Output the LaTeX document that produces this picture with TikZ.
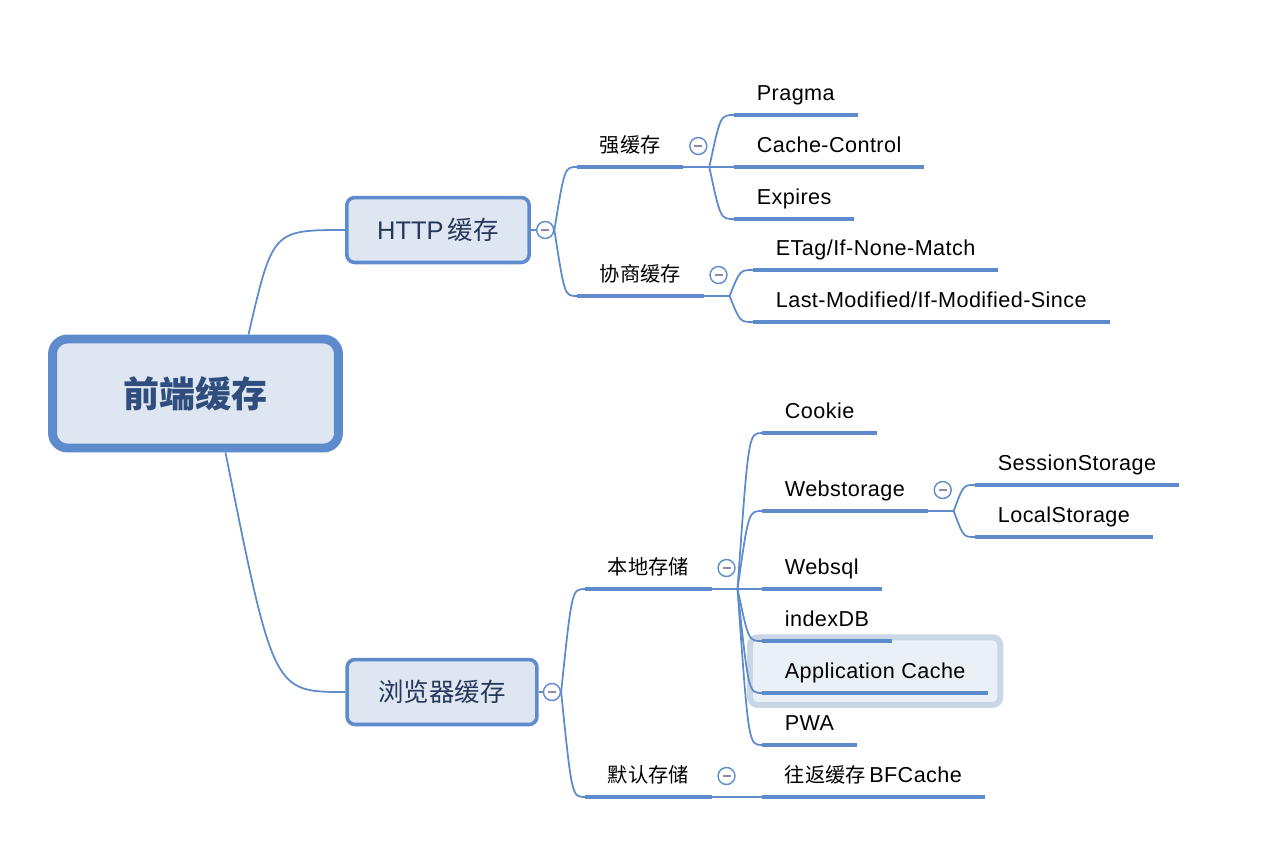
\documentclass[tikz,border=0pt]{standalone}
\usepackage{fontspec}
\setmainfont{Liberation Sans}
\newfontfamily\topicfont{Liberation Sans}[LetterSpace=2.0]
\newfontfamily\cjk{Noto Sans CJK SC}
\usetikzlibrary{positioning, fit, backgrounds, calc}
\definecolor{mapblue}{RGB}{94,139,204}
\definecolor{boxfill}{RGB}{222,230,242}
\definecolor{roottext}{RGB}{47,77,125}
\definecolor{boxtext}{RGB}{38,56,90}
\definecolor{foldmark}{RGB}{150,135,175}
\definecolor{seledge}{RGB}{200,214,230}
\definecolor{selfill}{RGB}{233,241,247}
\tikzset{
    link/.style={draw=mapblue, line width=1pt}, % thin branch lines
    uline/.style={draw=mapblue, line width=2.3pt}, % thick bar under every topic
    branch/.style={to path={.. controls ($(\tikztostart |- \tikztotarget)!#1!(\tikztotarget)$) .. (\tikztotarget)}}, % bracket shaped branch
    branch/.default=0.45,
    topic/.style={anchor=south west, inner xsep=0.45cm, inner ysep=0.28cm, text height=0.3cm, text depth=0pt, font=\topicfont\fontsize{12.3}{15}\selectfont},
    cjktopic/.style={topic, font=\cjk\fontsize{11.5}{14}\selectfont},
    mainbox/.style={draw=mapblue, fill=boxfill, line width=2pt, rounded corners=0.16cm, minimum width=3.65cm, minimum height=1.3cm, text=boxtext, font=\fontsize{14.5}{17}\selectfont},
    rootbox/.style={mainbox, line width=5.1pt, rounded corners=0.3cm, minimum width=5.72cm, minimum height=2.18cm, text=roottext, font=\cjk\bfseries\fontsize{20.5}{24}\selectfont},
    fold/.style={circle, draw=mapblue, fill=white, line width=0.8pt, minimum size=0.34cm, inner sep=0pt,
        path picture={\draw[foldmark, line width=0.7pt] ([xshift=-0.08cm]path picture bounding box.center) -- ([xshift=0.08cm]path picture bounding box.center);}},
    selbox/.style={draw=seledge, fill=selfill, line width=3.4pt, rounded corners=0.16cm},
}
\begin{document}
\begin{tikzpicture}[x=0.02cm, y=-0.02cm]
\useasboundingbox (0,0) rectangle (1288,862);

% main topics
\node[rootbox] (root) at (195.5,393.5) {前端缓存};
\node[mainbox] (http) at (438,230) {HTTP\,{\cjk 缓存}};
\node[mainbox, minimum width=3.8cm] (browser) at (442,692) {{\cjk 浏览器缓存}};

% HTTP cache
\node[cjktopic] (qiang) at (577,167) {强缓存};
\node[cjktopic] (xieshang) at (577,296) {协商缓存};
\node[topic] (pragma) at (734,115) {Pragma};
\node[topic] (cachectl) at (734,167) {Cache-Control};
\node[topic] (expires) at (734,219) {Expires};
\node[topic] (etag) at (753,270) {ETag/If-None-Match};
\node[topic] (lastmod) at (753,322) {Last-Modified/If-Modified-Since};

% browser cache
\node[cjktopic] (bendi) at (585,589) {本地存储};
\node[cjktopic] (moren) at (585,797) {默认存储};
\node[topic] (cookie) at (762,433) {Cookie};
\node[topic] (webstore) at (762,511) {Webstorage};
\node[topic] (websql) at (762,589) {Websql};
\node[topic] (indexdb) at (762,641) {indexDB};
\node[topic] (appcache) at (762,693) {Application Cache};
\node[topic] (pwa) at (762,745) {PWA};
\node[topic] (session) at (975,485) {SessionStorage};
\node[topic] (localst) at (975,537) {LocalStorage};
\node[topic] (bfcache) at (762,797) {{\cjk\fontsize{11.5}{14}\selectfont 往返缓存}\,BFCache};

\begin{pgfonlayer}{background}
\node[selbox, fit=(appcache), inner sep=0.24cm] (appsel) {};
\end{pgfonlayer}

% fork points
\coordinate[right=0.52cm of qiang.south east] (qiangfork);
\coordinate[right=0.52cm of xieshang.south east] (xsfork);
\coordinate[right=0.52cm of bendi.south east] (bendifork);
\coordinate[right=0.52cm of webstore.south east] (webfork);

\foreach \t in {qiang,xieshang,pragma,cachectl,expires,etag,lastmod,bendi,moren,cookie,webstore,websql,indexdb,appcache,pwa,session,localst,bfcache}
    \draw[uline] (\t.south west) -- (\t.south east);

% branches
\draw[link] ([xshift=1.06cm]root.north) to[branch=0.25] (http.west);
\draw[link] ([xshift=0.6cm]root.south) to[branch=0.4] (browser.west);
\node[fold, right=0.1cm of http] (httpfold) {};
\node[fold, right=0.08cm of browser] (browserfold) {};
\draw[link] (http) -- (httpfold);
\draw[link] (browser) -- (browserfold);
\draw[link] (httpfold.east) to[branch] (qiang.south west)
      (httpfold.east) to[branch] (xieshang.south west);
\draw[link] (browserfold.east) to[branch] (bendi.south west)
      (browserfold.east) to[branch] (moren.south west);

\draw[link] (qiang.south east) -- (qiangfork);
\foreach \t in {pragma,cachectl,expires}
    \draw[link] (qiangfork) to[branch] (\t.south west);
\draw[link] (xieshang.south east) -- (xsfork);
\foreach \t in {etag,lastmod}
    \draw[link] (xsfork) to[branch] (\t.south west);
\draw[link] (bendi.south east) -- (bendifork);
\foreach \t in {cookie,webstore,websql,indexdb,appcache,pwa}
    \draw[link] (bendifork) to[branch] (\t.south west);
\draw[link] (webstore.south east) -- (webfork);
\foreach \t in {session,localst}
    \draw[link] (webfork) to[branch] (\t.south west);
\draw[link] (moren.south east) -- (bfcache.south west);

% fold buttons
\node[fold] (qiangfold) at ([xshift=-0.22cm, yshift=0.42cm]qiangfork) {};
\node[fold] (xsfold) at ([xshift=-0.22cm, yshift=0.42cm]xsfork) {};
\node[fold] (bendifold) at ([xshift=-0.22cm, yshift=0.42cm]bendifork) {};
\node[fold] (webfold) at ([xshift=-0.22cm, yshift=0.42cm]webfork) {};
\node[fold] (morenfold) at ([xshift=0.3cm, yshift=0.42cm]moren.south east) {};
\end{tikzpicture}
\end{document}
